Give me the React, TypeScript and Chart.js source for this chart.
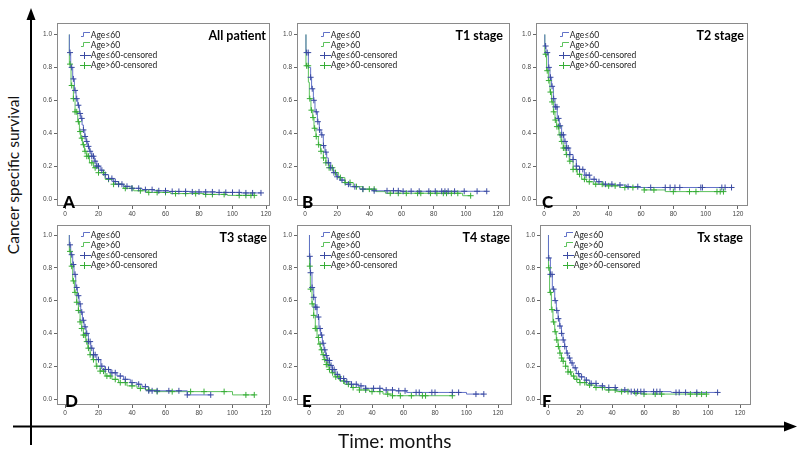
import React, { useEffect, useRef } from 'react';
import { Chart, registerables } from 'chart.js';

Chart.register(...registerables);

// ---------- data ----------
const X_TICKS = [0, 20, 40, 60, 80, 100, 120];
const Y_TICKS = [0, 0.2, 0.4, 0.6, 0.8, 1.0];
const SERIES_LABELS = ['Age≤60', 'Age>60', 'Age≤60-censored', 'Age>60-censored'];
const PANEL_TITLES = ['All patient', 'T1 stage', 'T2 stage', 'T3 stage', 'T4 stage', 'Tx stage'];
const PANEL_LETTERS = ['A', 'B', 'C', 'D', 'E', 'F'];

// A: All patient
const A_YOUNG_T = [2.6, 2.6, 3.4, 4.6, 5.6, 6.6, 7.6, 8.6, 9.4, 10.2, 11, 11.8, 12.6, 13.6, 14.6, 16, 17.5, 19, 21, 23, 26, 29, 32, 35, 40, 46, 53, 62, 75, 90, 105, 117];
const A_YOUNG_S = [1, 0.89, 0.8, 0.73, 0.66, 0.61, 0.57, 0.52, 0.49, 0.45, 0.42, 0.38, 0.35, 0.32, 0.29, 0.26, 0.23, 0.2, 0.175, 0.148, 0.125, 0.106, 0.09, 0.077, 0.065, 0.057, 0.05, 0.046, 0.043, 0.04, 0.037, 0.037];
const A_OLD_T = [2.6, 2.6, 3.6, 5, 6, 7.6, 8.6, 9.4, 10.4, 11.6, 13, 14.6, 17, 20, 24, 29, 35, 41, 49, 63, 83, 97, 113];
const A_OLD_S = [1, 0.82, 0.69, 0.61, 0.53, 0.47, 0.41, 0.37, 0.33, 0.29, 0.26, 0.22, 0.19, 0.16, 0.12, 0.09, 0.065, 0.05, 0.04, 0.033, 0.028, 0.022, 0.022];
const A_YOUNG_CENS = [3, 4, 5, 6, 7, 8, 9, 10, 11, 12, 13, 14, 15, 16, 17, 18, 19, 20, 22, 24, 26, 28, 30, 32, 34, 37, 40, 44, 48, 52, 56, 60, 64, 68, 72, 76, 80, 84, 88, 92, 96, 100, 104, 108, 112, 117];
const A_OLD_CENS = [3, 4, 5, 6, 7, 8, 9, 10, 11, 12, 13, 14, 16, 18, 20, 23, 26, 29, 32, 36, 40, 45, 50, 55, 60, 66, 72, 78, 84, 88, 95, 104, 108, 111, 113];

// B: T1 stage
const B_YOUNG_T = [0.6, 0.6, 2.1, 3.5, 4.1, 5.2, 6.2, 7.7, 8.9, 10, 11.4, 12.4, 13.5, 14.5, 16, 17.6, 19.7, 21.7, 24.8, 28, 34, 42, 60, 113];
const B_YOUNG_S = [1, 0.89, 0.8, 0.74, 0.67, 0.6, 0.53, 0.47, 0.42, 0.39, 0.325, 0.285, 0.25, 0.22, 0.19, 0.16, 0.135, 0.115, 0.09, 0.075, 0.06, 0.05, 0.047, 0.047];
const B_OLD_T = [0.6, 0.6, 2.1, 2.7, 3.7, 4.8, 5.6, 6.8, 8.3, 9.7, 11.4, 13, 15, 17.6, 20.7, 24.8, 30, 36, 44, 50, 98, 103];
const B_OLD_S = [1, 0.81, 0.71, 0.61, 0.54, 0.495, 0.43, 0.38, 0.33, 0.29, 0.25, 0.22, 0.19, 0.16, 0.13, 0.1, 0.075, 0.06, 0.045, 0.035, 0.02, 0.02];
const B_YOUNG_CENS = [1, 2, 3.5, 4.5, 5.5, 7, 8, 9, 10.5, 11.5, 13, 14.5, 16, 18, 20, 23, 27, 31, 36, 43, 51, 55, 58, 61, 66, 71, 77, 81, 85, 87, 89, 93, 99, 107, 113];
const B_OLD_CENS = [1, 2, 3, 4, 5, 6, 7, 8.5, 10, 11.5, 13, 15, 17, 19, 22, 25, 28, 32, 36, 40, 43, 53, 58, 63, 70, 72, 78, 82, 86, 88, 91, 95, 103];

// C: T2 stage
const C_YOUNG_T = [0.5, 0.5, 1.2, 2.7, 3.7, 4.7, 5.8, 6.8, 8.2, 9.5, 10.9, 12.3, 14, 16, 18, 20, 22, 25, 28.4, 32.5, 36.6, 42.8, 51, 59, 116];
const C_YOUNG_S = [1, 0.93, 0.89, 0.8, 0.74, 0.685, 0.61, 0.56, 0.49, 0.445, 0.39, 0.35, 0.31, 0.27, 0.24, 0.2, 0.18, 0.145, 0.12, 0.105, 0.09, 0.085, 0.075, 0.07, 0.07];
const C_OLD_T = [0.5, 0.5, 1.6, 2.7, 3.7, 4.7, 5.8, 6.8, 7.8, 9.3, 10.5, 11.9, 13.6, 15.6, 18, 20.6, 23.3, 26.3, 30.5, 36.6, 47, 62, 75, 111];
const C_OLD_S = [1, 0.88, 0.78, 0.72, 0.65, 0.59, 0.53, 0.48, 0.44, 0.39, 0.35, 0.31, 0.27, 0.23, 0.18, 0.15, 0.12, 0.105, 0.09, 0.08, 0.07, 0.055, 0.045, 0.045];
const C_YOUNG_CENS = [1, 2, 3, 4, 5, 6, 7, 8, 9, 10, 11, 12, 13, 14, 15, 16, 18, 20, 22, 24, 26, 28, 31, 34, 38, 42, 47, 52, 58, 66, 75, 78, 81, 84, 97, 98, 110, 112, 116];
const C_OLD_CENS = [1, 2, 3, 4, 5, 6, 7, 8, 9, 10, 11, 12, 13, 14, 16, 18, 20, 22, 25, 28, 32, 36, 40, 44, 50, 55, 62, 68, 80, 90, 94, 107, 109, 111];

// D: T3 stage
const D_YOUNG_T = [2.6, 2.6, 3.4, 4.6, 5.4, 6.4, 7.4, 8.4, 9.4, 10.4, 11.4, 12.6, 14, 15.4, 17, 19, 21.4, 24, 27, 31, 35, 39, 43, 46, 50, 73, 87];
const D_YOUNG_S = [1, 0.94, 0.88, 0.82, 0.76, 0.68, 0.63, 0.58, 0.53, 0.48, 0.44, 0.4, 0.35, 0.31, 0.27, 0.24, 0.2, 0.18, 0.16, 0.14, 0.12, 0.1, 0.09, 0.075, 0.05, 0.025, 0.025];
const D_OLD_T = [2.6, 2.6, 3.4, 4.6, 5.6, 7, 8, 9, 10, 11, 12.4, 13.6, 15, 16.6, 18.6, 21, 24, 28, 32, 37, 43, 48, 55, 100, 113];
const D_OLD_S = [1, 0.9, 0.81, 0.72, 0.65, 0.59, 0.54, 0.47, 0.43, 0.39, 0.35, 0.31, 0.27, 0.24, 0.2, 0.17, 0.14, 0.12, 0.1, 0.08, 0.065, 0.055, 0.045, 0.025, 0.025];
const D_YOUNG_CENS = [3, 4, 5, 6, 7, 8, 9, 10, 11, 12, 13, 14, 15, 16, 17, 18, 20, 22, 24, 26, 28, 30, 33, 36, 40, 44, 48, 50, 52, 55, 62, 68, 73, 87];
const D_OLD_CENS = [3, 4, 5, 6, 7, 8, 9, 10, 11, 12, 13, 14, 15, 17, 19, 21, 23, 25, 27, 30, 33, 36, 40, 45, 50, 55, 64, 75, 83, 95, 108, 113];

// E: T4 stage
const E_YOUNG_T = [0.3, 0.3, 0.85, 1.9, 3, 4, 5.1, 6.3, 7.4, 8.5, 9.5, 10.6, 11.6, 13.1, 14.8, 17, 19.5, 22.6, 26.9, 31, 36, 47, 55, 62, 100, 111];
const E_YOUNG_S = [1, 0.87, 0.77, 0.68, 0.62, 0.56, 0.5, 0.43, 0.39, 0.34, 0.3, 0.265, 0.235, 0.205, 0.18, 0.15, 0.125, 0.105, 0.09, 0.08, 0.065, 0.055, 0.05, 0.04, 0.03, 0.03];
const E_OLD_T = [0.3, 0.3, 0.85, 1.9, 3, 4, 5.1, 6.1, 7.2, 8.2, 9.5, 11, 12.7, 14.2, 16.4, 19.5, 22.6, 26.9, 32, 38.5, 47, 53, 91];
const E_OLD_S = [1, 0.81, 0.67, 0.58, 0.51, 0.43, 0.375, 0.335, 0.3, 0.27, 0.24, 0.21, 0.18, 0.16, 0.135, 0.11, 0.09, 0.07, 0.055, 0.045, 0.03, 0.02, 0.02];
const E_YOUNG_CENS = [0.5, 1, 2, 3, 4, 5, 6, 7, 8, 9, 10, 11, 12, 13, 14, 15, 16, 18, 20, 22, 24, 27, 30, 33, 36, 41, 45, 49, 53, 57, 61, 68, 70, 78, 80, 91, 95, 106, 111];
const E_OLD_CENS = [0.5, 1, 2, 3, 4, 5, 6, 7, 8, 9, 10, 11, 12, 13, 15, 17, 19, 22, 25, 28, 32, 36, 40, 45, 50, 53, 58, 65, 72, 74, 91];

// F: Tx stage
const F_YOUNG_T = [0.3, 0.3, 1.5, 2.7, 4.2, 5.2, 6.3, 7.3, 8.4, 9.4, 10.4, 11.5, 12.5, 14, 15.7, 17.7, 19.8, 23, 26, 30.3, 35.5, 42.8, 51, 77, 106.5];
const F_YOUNG_S = [1, 0.86, 0.76, 0.67, 0.6, 0.54, 0.49, 0.445, 0.4, 0.36, 0.32, 0.28, 0.25, 0.22, 0.19, 0.155, 0.135, 0.115, 0.095, 0.08, 0.07, 0.055, 0.045, 0.04, 0.04];
const F_OLD_T = [0.3, 0.3, 1.0, 2.1, 3.1, 4.2, 5.2, 6.3, 7.3, 8.4, 9.4, 11, 12.5, 14.6, 16.7, 19.8, 24, 29, 35.5, 42.8, 53, 60, 99];
const F_OLD_S = [1, 0.8, 0.65, 0.545, 0.47, 0.41, 0.36, 0.32, 0.28, 0.25, 0.23, 0.2, 0.165, 0.14, 0.12, 0.1, 0.085, 0.07, 0.055, 0.045, 0.035, 0.03, 0.03];
const F_YOUNG_CENS = [0.5, 1.5, 2.5, 3.5, 4.5, 5.5, 6.5, 7.5, 8.5, 9.5, 10.5, 12, 13.5, 15, 17, 19, 21, 24, 27, 30, 34, 38, 42, 48, 52, 54, 56, 58, 60, 66, 68, 70, 80, 82, 86, 93, 106];
const F_OLD_CENS = [0.5, 1.5, 2.5, 3.5, 4.5, 5.5, 6.5, 7.5, 8.5, 9.5, 11, 12.5, 14, 16, 18, 20, 23, 26, 30, 34, 38, 42, 46, 50, 55, 60, 67, 71, 89, 93, 96, 99];

type PanelData = {
  youngT: number[]; youngS: number[]; oldT: number[]; oldS: number[];
  youngCens: number[]; oldCens: number[];
};

const PANEL_DATA: PanelData[] = [
  { youngT: A_YOUNG_T, youngS: A_YOUNG_S, oldT: A_OLD_T, oldS: A_OLD_S, youngCens: A_YOUNG_CENS, oldCens: A_OLD_CENS },
  { youngT: B_YOUNG_T, youngS: B_YOUNG_S, oldT: B_OLD_T, oldS: B_OLD_S, youngCens: B_YOUNG_CENS, oldCens: B_OLD_CENS },
  { youngT: C_YOUNG_T, youngS: C_YOUNG_S, oldT: C_OLD_T, oldS: C_OLD_S, youngCens: C_YOUNG_CENS, oldCens: C_OLD_CENS },
  { youngT: D_YOUNG_T, youngS: D_YOUNG_S, oldT: D_OLD_T, oldS: D_OLD_S, youngCens: D_YOUNG_CENS, oldCens: D_OLD_CENS },
  { youngT: E_YOUNG_T, youngS: E_YOUNG_S, oldT: E_OLD_T, oldS: E_OLD_S, youngCens: E_YOUNG_CENS, oldCens: E_OLD_CENS },
  { youngT: F_YOUNG_T, youngS: F_YOUNG_S, oldT: F_OLD_T, oldS: F_OLD_S, youngCens: F_YOUNG_CENS, oldCens: F_OLD_CENS },
];

// ---------- layout / style ----------
type PanelLayout = {
  L: number; R: number; T: number; B: number;
  x0: number; x120: number; y1: number; y0: number;
  letterDx: number; titleInset: number; legendOffset: number;
};

const LAYOUTS: PanelLayout[] = [
  { L: 57, R: 270, T: 23, B: 206, x0: 65, x120: 266, y1: 34.5, y0: 199, letterDx: 6, titleInset: 4, legendOffset: 12 },
  { L: 297, R: 510, T: 23, B: 206, x0: 305, x120: 498, y1: 34.5, y0: 199, letterDx: 5, titleInset: 7, legendOffset: 12 },
  { L: 536, R: 748, T: 23, B: 206, x0: 544, x120: 738, y1: 34.5, y0: 199, letterDx: 6, titleInset: 4, legendOffset: 12 },
  { L: 57, R: 270, T: 225, B: 405, x0: 65, x120: 266, y1: 235, y0: 399, letterDx: 8, titleInset: 3, legendOffset: 10 },
  { L: 297, R: 512, T: 225, B: 405, x0: 309, x120: 498, y1: 235, y0: 399, letterDx: 5, titleInset: 2, legendOffset: 10 },
  { L: 540, R: 751, T: 225, B: 405, x0: 548, x120: 740, y1: 235, y0: 399, letterDx: 2, titleInset: 8, legendOffset: 10 },
];

const BLUE_LINE = '#6272c8';
const BLUE_MARK = '#3a4aa2';
const GREEN_LINE = '#5cc25c';
const GREEN_MARK = '#36ad36';

const AXIS_W = 30;
const AXIS_H = 16;
const PAD_TOP = 6;
const PAD_RIGHT = 8;

function stepAt(T: number[], S: number[], t: number): number {
  let v = S[0];
  for (let i = 0; i < T.length; i++) {
    if (T[i] <= t) v = S[i];
    else break;
  }
  return v;
}

function makeIcon(kind: 'step' | 'plus', color: string): HTMLCanvasElement {
  const c = document.createElement('canvas');
  c.width = 39;
  c.height = 10;
  const ctx = c.getContext('2d')!;
  ctx.strokeStyle = color;
  ctx.lineWidth = 1;
  ctx.beginPath();
  if (kind === 'step') {
    ctx.moveTo(28, 6.5);
    ctx.lineTo(30.5, 6.5);
    ctx.lineTo(30.5, 2.5);
    ctx.lineTo(37, 2.5);
  } else {
    ctx.moveTo(27, 5.5);
    ctx.lineTo(38, 5.5);
    ctx.moveTo(31.5, 2);
    ctx.lineTo(31.5, 9);
  }
  ctx.stroke();
  return c;
}

const boxPlugin = {
  id: 'plotBox',
  afterDraw(chart: any) {
    const { ctx, chartArea } = chart;
    ctx.save();
    ctx.strokeStyle = '#8a8a8a';
    ctx.lineWidth = 1;
    ctx.strokeRect(chartArea.left + 0.5, chartArea.top + 0.5, chartArea.width - 1, chartArea.height - 1);
    ctx.restore();
  },
};

const TICK_FONT = { family: "'Liberation Sans', Arial, sans-serif", size: 6.5 };

function Panel({ d, l }: { d: PanelData; l: PanelLayout }) {
  const ref = useRef<HTMLCanvasElement>(null);
  const W = l.R - l.L + AXIS_W + PAD_RIGHT;
  const H = l.B - l.T + PAD_TOP + AXIS_H;

  useEffect(() => {
    if (!ref.current) return;
    const pxX = (l.x120 - l.x0) / 120;
    const pxY = l.y0 - l.y1;
    const xMin = -(l.x0 - l.L) / pxX;
    const xMax = 120 + (l.R - l.x120) / pxX;
    const yMin = -(l.B - l.y0) / pxY;
    const yMax = 1 + (l.y1 - l.T) / pxY;

    const icons = [
      makeIcon('step', BLUE_LINE),
      makeIcon('step', GREEN_LINE),
      makeIcon('plus', BLUE_MARK),
      makeIcon('plus', GREEN_MARK),
    ];
    const legendFontSize = 8.5;
    const legendPad = 1.5;
    const titleHeight = l.legendOffset + PAD_TOP - legendPad - legendFontSize / 2;

    const chart = new Chart(ref.current, {
      type: 'line',
      data: {
        datasets: [
          {
            label: SERIES_LABELS[2],
            data: d.youngCens.map((t) => ({ x: t, y: stepAt(d.youngT, d.youngS, t) })),
            showLine: false,
            pointStyle: 'cross',
            pointRadius: 3,
            pointHoverRadius: 3,
            pointBorderWidth: 1,
            borderColor: BLUE_MARK,
            backgroundColor: BLUE_MARK,
            pointBorderColor: BLUE_MARK,
            order: 0,
          },
          {
            label: SERIES_LABELS[3],
            data: d.oldCens.map((t) => ({ x: t, y: stepAt(d.oldT, d.oldS, t) })),
            showLine: false,
            pointStyle: 'cross',
            pointRadius: 3,
            pointHoverRadius: 3,
            pointBorderWidth: 1,
            borderColor: GREEN_MARK,
            backgroundColor: GREEN_MARK,
            pointBorderColor: GREEN_MARK,
            order: 1,
          },
          {
            label: SERIES_LABELS[0],
            data: d.youngT.map((t, i) => ({ x: t, y: d.youngS[i] })),
            stepped: true,
            borderColor: BLUE_LINE,
            borderWidth: 1,
            pointRadius: 0,
            pointHoverRadius: 0,
            fill: false,
            order: 2,
          },
          {
            label: SERIES_LABELS[1],
            data: d.oldT.map((t, i) => ({ x: t, y: d.oldS[i] })),
            stepped: true,
            borderColor: GREEN_LINE,
            borderWidth: 1,
            pointRadius: 0,
            pointHoverRadius: 0,
            fill: false,
            order: 3,
          },
        ],
      } as any,
      options: {
        animation: false,
        responsive: false,
        maintainAspectRatio: false,
        events: [],
        layout: { padding: { top: PAD_TOP, right: PAD_RIGHT, bottom: 0, left: 0 } },
        plugins: {
          tooltip: { enabled: false },
          title: { display: false },
          legend: {
            display: true,
            position: 'chartArea' as any,
            align: 'start',
            title: {
              display: true,
              text: '',
              padding: { top: titleHeight - 1, bottom: 0 },
              font: { size: 1, lineHeight: 1 },
            },
            labels: {
              usePointStyle: true,
              pointStyleWidth: 28,
              padding: legendPad,
              color: '#222',
              font: { family: "Lato, 'Noto Sans', sans-serif", size: legendFontSize },
              generateLabels: () =>
                SERIES_LABELS.map((text, i) => ({
                  text,
                  pointStyle: icons[i] as any,
                  fillStyle: 'rgba(0,0,0,0)',
                  strokeStyle: 'rgba(0,0,0,0)',
                  lineWidth: 0,
                  hidden: false,
                  fontColor: '#222',
                  datasetIndex: i,
                })),
            },
          },
        },
        scales: {
          x: {
            type: 'linear',
            min: xMin,
            max: xMax,
            bounds: 'data',
            afterBuildTicks: (s: any) => {
              s.ticks = X_TICKS.map((v) => ({ value: v }));
            },
            afterFit: (s: any) => {
              s.height = AXIS_H;
            },
            grid: { drawOnChartArea: false, drawTicks: true, tickLength: 3, color: '#666' },
            border: { display: false },
            ticks: {
              font: TICK_FONT,
              color: '#444',
              padding: 1,
              maxRotation: 0,
              autoSkip: false,
              callback: (v: any) => String(v),
            },
          },
          y: {
            type: 'linear',
            min: yMin,
            max: yMax,
            bounds: 'data',
            afterBuildTicks: (s: any) => {
              s.ticks = Y_TICKS.map((v) => ({ value: v }));
            },
            afterFit: (s: any) => {
              s.width = AXIS_W;
            },
            grid: { drawOnChartArea: false, drawTicks: true, tickLength: 3, color: '#666' },
            border: { display: false },
            ticks: {
              font: TICK_FONT,
              color: '#444',
              padding: 2,
              autoSkip: false,
              callback: (v: any) => Number(v).toFixed(1),
            },
          },
        },
      } as any,
      plugins: [boxPlugin],
    });
    return () => chart.destroy();
  }, []);

  return (
    <canvas
      ref={ref}
      width={W}
      height={H}
      style={{ position: 'absolute', left: l.L - AXIS_W, top: l.T - PAD_TOP, width: W, height: H }}
    />
  );
}

export default function App() {
  return (
    <div
      style={{
        position: 'fixed',
        left: 0,
        top: 0,
        width: 800,
        height: 460,
        background: '#fff',
        overflow: 'hidden',
        fontFamily: "Lato, 'Noto Sans', sans-serif",
        color: '#111',
      }}
    >
      <svg width={800} height={460} style={{ position: 'absolute', left: 0, top: 0 }}>
        <line x1={31} y1={445} x2={31} y2={16} stroke="#000" strokeWidth={2} />
        <polygon points="31,8 26.5,20 35.5,20" fill="#000" />
        <line x1={13} y1={426.5} x2={787} y2={426.5} stroke="#000" strokeWidth={2} />
        <polygon points="797,426.5 784,421.5 784,431.5" fill="#000" />
      </svg>
      {PANEL_DATA.map((d, i) => (
        <Panel key={i} d={d} l={LAYOUTS[i]} />
      ))}
      {LAYOUTS.map((l, i) => (
        <div
          key={'t' + i}
          style={{
            position: 'absolute',
            right: 800 - (l.R - l.titleInset),
            top: l.T + 7,
            fontSize: 12.5,
            lineHeight: 1,
            fontWeight: 700,
            whiteSpace: 'nowrap',
            color: '#000',
          }}
        >
          {PANEL_TITLES[i]}
        </div>
      ))}
      {LAYOUTS.map((l, i) => (
        <div
          key={'l' + i}
          style={{
            position: 'absolute',
            left: l.L + l.letterDx,
            top: l.B + 2 - 15.1,
            fontSize: 17,
            lineHeight: 1,
            fontWeight: 900,
            color: '#000',
          }}
        >
          {PANEL_LETTERS[i]}
        </div>
      ))}
      <div
        style={{
          position: 'absolute',
          left: 14,
          top: 175,
          transform: 'translate(-50%, -50%) rotate(-90deg)',
          fontSize: 15.5,
          lineHeight: 1,
          whiteSpace: 'nowrap',
          color: '#111',
        }}
      >
        Cancer specific survival
      </div>
      <div
        style={{
          position: 'absolute',
          left: 338,
          top: 431,
          fontSize: 19,
          lineHeight: 1,
          whiteSpace: 'nowrap',
          color: '#111',
        }}
      >
        Time: months
      </div>
    </div>
  );
}
